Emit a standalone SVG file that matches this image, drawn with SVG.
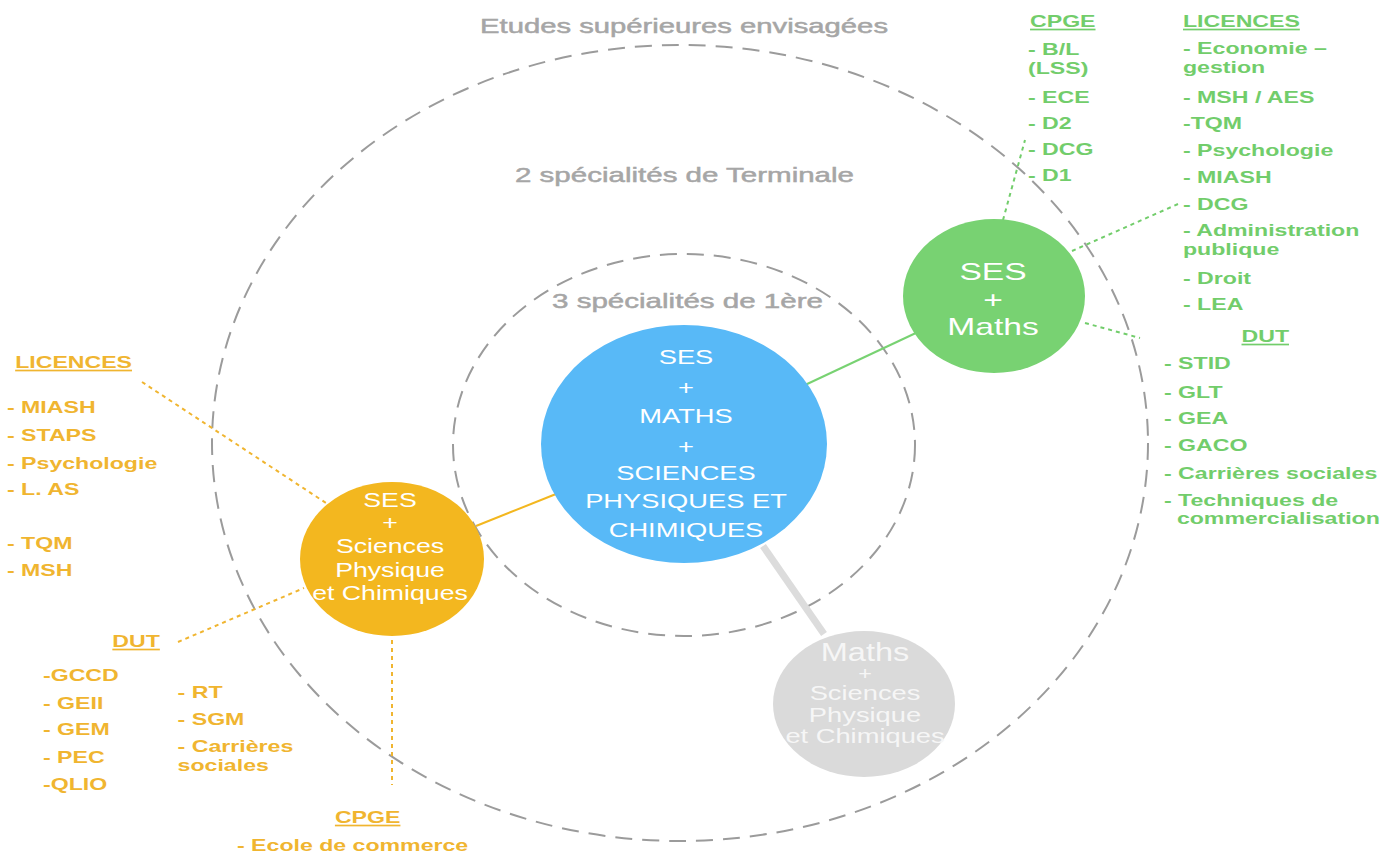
<svg xmlns="http://www.w3.org/2000/svg" width="1381" height="854" viewBox="0 0 1381 854">
<style>
.bg{fill:#ffffff}
.ring{fill:none;stroke:#9b9b9b;stroke-width:2;stroke-dasharray:17 10}
.head{font-family:"Liberation Sans",Arial,sans-serif;font-size:21px;fill:#a6a6a6;stroke:#a6a6a6;stroke-width:0.5}
.ctext{font-family:"Liberation Sans",Arial,sans-serif;font-size:21px;fill:#ffffff;text-anchor:middle}
.gtext{font-family:"Liberation Sans",Arial,sans-serif;font-size:21px;fill:#f6f6f6;text-anchor:middle}
.lg{font-family:"Liberation Sans",Arial,sans-serif;font-size:17px;font-weight:bold;fill:#72cd6b}
.ly{font-family:"Liberation Sans",Arial,sans-serif;font-size:17px;font-weight:bold;fill:#f0b530}
.u{text-decoration:underline}
.dotg{fill:none;stroke:#72cd6b;stroke-width:2;stroke-dasharray:4 4}
.doty{fill:none;stroke:#f0b530;stroke-width:2;stroke-dasharray:4 4}
</style>
<rect class="bg" x="0" y="0" width="1381" height="854"/>

<g id="rings">
<ellipse class="ring" cx="680" cy="443" rx="468" ry="398"/>
<ellipse class="ring" cx="684" cy="445" rx="231" ry="191"/>
<text class="head" x="480" y="33" textLength="408" lengthAdjust="spacingAndGlyphs">Etudes supérieures envisagées</text>
<text class="head" x="515" y="182" textLength="339" lengthAdjust="spacingAndGlyphs">2 spécialités de Terminale</text>
<text class="head" x="552" y="308" textLength="271" lengthAdjust="spacingAndGlyphs">3 spécialités de 1ère</text>
</g>

<g id="connectors">
<line x1="805" y1="385" x2="918" y2="332" stroke="#78d272" stroke-width="2"/>
<line x1="556" y1="494" x2="476" y2="526" stroke="#f3b71f" stroke-width="2"/>
<line x1="763" y1="546" x2="824" y2="634" stroke="#dcdcdc" stroke-width="7"/>
<line class="dotg" x1="1003" y1="220" x2="1025" y2="140"/>
<line class="dotg" x1="1072" y1="251" x2="1178" y2="204"/>
<line class="dotg" x1="1085" y1="323" x2="1140" y2="338"/>
<line class="doty" x1="142" y1="382" x2="326" y2="503"/>
<line class="doty" x1="178" y1="642" x2="304" y2="588"/>
<line class="doty" x1="392" y1="640" x2="392" y2="785"/>
</g>

<g id="node-center">
<ellipse cx="684" cy="444" rx="143" ry="119" fill="#58b9f7"/>
<g transform="translate(686,0) scale(1.3,1)">
<text class="ctext" x="0" y="364">SES</text>
<text class="ctext" x="0" y="395">+</text>
<text class="ctext" x="0" y="423">MATHS</text>
<text class="ctext" x="0" y="454">+</text>
<text class="ctext" x="0" y="480">SCIENCES</text>
<text class="ctext" x="0" y="508">PHYSIQUES ET</text>
<text class="ctext" x="0" y="537">CHIMIQUES</text>
</g>
</g>

<g id="node-ses-maths">
<ellipse cx="994" cy="296" rx="91" ry="77" fill="#78d272"/>
<g transform="translate(993,0) scale(1.4,1)">
<text class="ctext" x="0" y="280" style="font-size:24px">SES</text>
<text class="ctext" x="0" y="308" style="font-size:24px">+</text>
<text class="ctext" x="0" y="335" style="font-size:24px">Maths</text>
</g>
</g>

<g id="node-ses-spc">
<ellipse cx="392" cy="559" rx="92" ry="77" fill="#f3b71f"/>
<g transform="translate(390,0) scale(1.27,1)">
<text class="ctext" x="0" y="507">SES</text>
<text class="ctext" x="0" y="530">+</text>
<text class="ctext" x="0" y="553">Sciences</text>
<text class="ctext" x="0" y="577">Physique</text>
<text class="ctext" x="0" y="600">et Chimiques</text>
</g>
</g>

<g id="node-maths-spc">
<ellipse cx="864" cy="704" rx="91" ry="73" fill="#dadada"/>
<g transform="translate(865,0) scale(1.3,1)">
<text class="gtext" x="0" y="661" style="font-size:25px">Maths</text>
<text class="gtext" x="0" y="680" style="font-size:18px">+</text>
<text class="gtext" x="0" y="700">Sciences</text>
<text class="gtext" x="0" y="722">Physique</text>
<text class="gtext" x="0" y="743">et Chimiques</text>
</g>
</g>

<g id="green-cpge" transform="translate(1028,0) scale(1.36,1)">
<text class="lg u" x="1.5" y="27">CPGE</text>
<text class="lg" x="0" y="55">- B/L</text>
<text class="lg" x="0" y="74">(LSS)</text>
<text class="lg" x="0" y="103">- ECE</text>
<text class="lg" x="0" y="129">- D2</text>
<text class="lg" x="0" y="155">- DCG</text>
<text class="lg" x="0" y="181">- D1</text>
</g>

<g id="green-licences" transform="translate(1183,0) scale(1.36,1)">
<text class="lg u" x="0" y="27">LICENCES</text>
<text class="lg" x="0" y="54">- Economie –</text>
<text class="lg" x="0" y="73">gestion</text>
<text class="lg" x="0" y="103">- MSH / AES</text>
<text class="lg" x="0" y="129">-TQM</text>
<text class="lg" x="0" y="156">- Psychologie</text>
<text class="lg" x="0" y="183">- MIASH</text>
<text class="lg" x="0" y="210">- DCG</text>
<text class="lg" x="0" y="236">- Administration</text>
<text class="lg" x="0" y="255">publique</text>
<text class="lg" x="0" y="284">- Droit</text>
<text class="lg" x="0" y="310">- LEA</text>
</g>

<g id="green-dut" transform="translate(1164,0) scale(1.36,1)">
<text class="lg u" x="57" y="342">DUT</text>
<text class="lg" x="0" y="369">- STID</text>
<text class="lg" x="0" y="398">- GLT</text>
<text class="lg" x="0" y="424">- GEA</text>
<text class="lg" x="0" y="451">- GACO</text>
<text class="lg" x="0" y="479">- Carrières sociales</text>
<text class="lg" x="0" y="506">- Techniques de</text>
<text class="lg" x="9.5" y="524">commercialisation</text>
</g>

<g id="yellow-licences" transform="translate(7,0) scale(1.36,1)">
<text class="ly u" x="6" y="368">LICENCES</text>
<text class="ly" x="0" y="413">- MIASH</text>
<text class="ly" x="0" y="441">- STAPS</text>
<text class="ly" x="0" y="469">- Psychologie</text>
<text class="ly" x="0" y="495">- L. AS</text>
<text class="ly" x="0" y="549">- TQM</text>
<text class="ly" x="0" y="576">- MSH</text>
</g>

<g id="yellow-dut" transform="translate(43,0) scale(1.36,1)">
<text class="ly u" x="51" y="647">DUT</text>
<text class="ly" x="0" y="681">-GCCD</text>
<text class="ly" x="0" y="709">- GEII</text>
<text class="ly" x="0" y="735">- GEM</text>
<text class="ly" x="0" y="763">- PEC</text>
<text class="ly" x="0" y="790">-QLIO</text>
<text class="ly" x="99" y="698">- RT</text>
<text class="ly" x="99" y="725">- SGM</text>
<text class="ly" x="99" y="752">- Carrières</text>
<text class="ly" x="99" y="771">sociales</text>
</g>

<g id="yellow-cpge" transform="translate(237,0) scale(1.36,1)">
<text class="ly u" x="72" y="823">CPGE</text>
<text class="ly" x="0" y="851">- Ecole de commerce</text>
</g>
</svg>
